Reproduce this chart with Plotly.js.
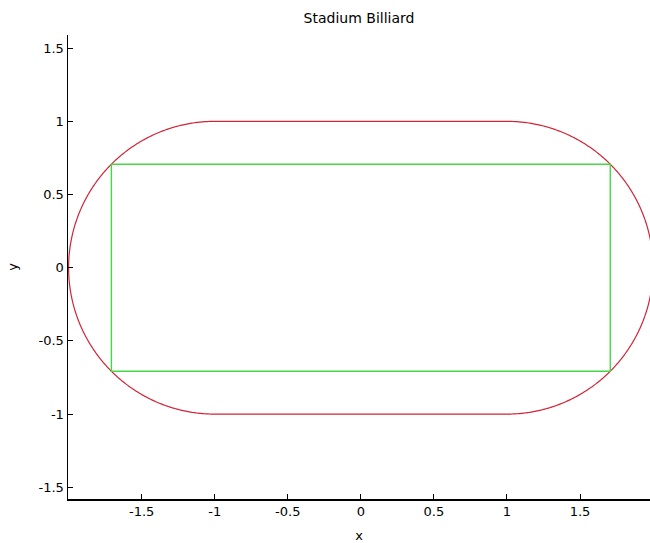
<!DOCTYPE html>
<html>
<head>
<meta charset="utf-8">
<script src="https://cdn.plot.ly/plotly-3.0.1.min.js"></script>
<style>html,body{margin:0;padding:0;background:#fff;}#chart{width:650px;height:543px;}</style>
</head>
<body>
<div id="chart"></div>
<script>
// Stadium: straight edges from x=-1 to 1 at y=±1, semicircular ends of radius 1 centred at x=±1
const straightX = [-1, 1];
const arcCentersX = [-1, 1];
const arcRadius = 1;
const arcSteps = 360;
// Green trajectory (rectangle) corners
const rectX = [-1.7071, 1.7071, 1.7071, -1.7071, -1.7071];
const rectY = [0.7071, 0.7071, -0.7071, -0.7071, 0.7071];
// Ticks
const xTickVals = [-1.5, -1, -0.5, 0, 0.5, 1, 1.5];
const xTickText = ["-1.5", "-1", "-0.5", "0", "0.5", "1", "1.5"];
const yTickVals = [-1.5, -1, -0.5, 0, 0.5, 1, 1.5];
const yTickText = ["-1.5", "-1", "-0.5", "0", "0.5", "1", "1.5"];

// Build boundary from the geometric parameters
const bx = [], by = [];
bx.push(straightX[0], straightX[1]); by.push(arcRadius, arcRadius);
for (let i = 0; i <= arcSteps; i++) {
  const t = Math.PI / 2 - Math.PI * i / arcSteps;
  bx.push(arcCentersX[1] + arcRadius * Math.cos(t));
  by.push(arcRadius * Math.sin(t));
}
bx.push(straightX[0]); by.push(-arcRadius);
for (let i = 0; i <= arcSteps; i++) {
  const t = -Math.PI / 2 - Math.PI * i / arcSteps;
  bx.push(arcCentersX[0] + arcRadius * Math.cos(t));
  by.push(arcRadius * Math.sin(t));
}

const traces = [
  {x: bx, y: by, type: 'scatter', mode: 'lines', line: {color: 'rgb(210,35,55)', width: 1.2, simplify: false}, hoverinfo: 'skip'},
  {x: rectX, y: rectY, type: 'scatter', mode: 'lines', line: {color: 'rgb(70,215,70)', width: 1.4}, hoverinfo: 'skip'}
];

const fam = 'DejaVu Sans, Verdana, sans-serif';
const axisFont = {family: fam, size: 13, color: '#000'};
const layout = {
  width: 650, height: 543,
  margin: {l: 68, r: 0, t: 35, b: 44},
  paper_bgcolor: '#fff', plot_bgcolor: '#fff',
  showlegend: false,
  title: {text: 'Stadium Billiard', font: {family: fam, size: 14, color: '#000'}, x: 359/650, xanchor: 'center', y: 1 - 18/543, yanchor: 'middle'},
  xaxis: {
    range: [-2.004, 1.979], showgrid: false, zeroline: false,
    showline: true, linecolor: '#000', linewidth: 1.5, mirror: false,
    ticks: 'inside', ticklen: 5, tickwidth: 1, tickcolor: '#000',
    tickvals: xTickVals, ticktext: xTickText, tickfont: axisFont,
    title: {text: 'x', font: axisFont, standoff: 14}
  },
  yaxis: {
    range: [-1.58, 1.59], showgrid: false, zeroline: false,
    showline: true, linecolor: '#000', linewidth: 1.5, mirror: false,
    ticks: 'inside', ticklen: 5, tickwidth: 1, tickcolor: '#000',
    tickvals: yTickVals, ticktext: yTickText, tickfont: axisFont,
    title: {text: 'y', font: axisFont, standoff: 18}
  }
};

Plotly.newPlot('chart', traces, layout, {staticPlot: true, displayModeBar: false});
</script>
</body>
</html>
